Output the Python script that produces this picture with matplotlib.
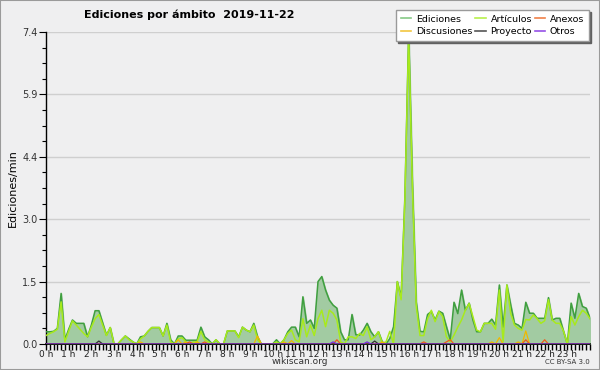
import matplotlib
matplotlib.use('Agg')
import matplotlib.pyplot as plt
import numpy as np
from matplotlib.lines import Line2D
from matplotlib.patches import Rectangle
from matplotlib.ticker import MultipleLocator, FixedLocator, FuncFormatter

# edits per minute, 10-minute bins (145 points, 0 h .. 24 h)
ediciones = [
    0.29, 0.29, 0.30, 0.37, 1.20, 0.10,   # 0 h
    0.35, 0.57, 0.49, 0.49, 0.49, 0.17,   # 1 h
    0.45, 0.79, 0.79, 0.50, 0.21, 0.39,   # 2 h
    0.00, 0.00, 0.10, 0.19, 0.12, 0.05,   # 3 h
    0.00, 0.17, 0.19, 0.30, 0.39, 0.39,   # 4 h
    0.39, 0.19, 0.49, 0.10, 0.00, 0.19,   # 5 h
    0.19, 0.09, 0.09, 0.09, 0.09, 0.40,   # 6 h
    0.17, 0.10, 0.00, 0.10, 0.00, 0.00,   # 7 h
    0.31, 0.31, 0.31, 0.17, 0.40, 0.33,   # 8 h
    0.29, 0.49, 0.17, 0.00, 0.00, 0.00,   # 9 h
    0.00, 0.10, 0.00, 0.10, 0.29, 0.40,   # 10 h
    0.40, 0.17, 1.12, 0.49, 0.57, 0.37,   # 11 h
    1.48, 1.60, 1.28, 1.04, 0.92, 0.85,   # 12 h
    0.29, 0.10, 0.10, 0.70, 0.22, 0.21,   # 13 h
    0.33, 0.49, 0.29, 0.17, 0.29, 0.05,   # 14 h
    0.00, 0.13, 0.41, 1.48, 1.10, 3.50,   # 15 h
    7.40, 3.80, 1.00, 0.30, 0.29, 0.70,   # 16 h
    0.77, 0.57, 0.78, 0.73, 0.41, 0.10,   # 17 h
    0.99, 0.72, 1.28, 0.80, 0.97, 0.57,   # 18 h
    0.29, 0.29, 0.49, 0.49, 0.59, 0.45,   # 19 h
    1.40, 0.40, 1.40, 0.93, 0.49, 0.45,   # 20 h
    0.37, 0.99, 0.73, 0.73, 0.61, 0.61,   # 21 h
    0.61, 1.10, 0.57, 0.61, 0.61, 0.30,   # 22 h
    0.00, 0.97, 0.61, 1.20, 0.89, 0.85,   # 23 h
    0.61,
]
articulos = [
    0.20, 0.25, 0.29, 0.35, 1.00, 0.05,
    0.30, 0.55, 0.45, 0.35, 0.25, 0.17,
    0.40, 0.60, 0.70, 0.45, 0.20, 0.39,
    0.00, 0.00, 0.10, 0.19, 0.10, 0.05,
    0.00, 0.12, 0.19, 0.30, 0.39, 0.39,
    0.39, 0.19, 0.45, 0.05, 0.00, 0.12,
    0.15, 0.05, 0.00, 0.05, 0.05, 0.30,
    0.10, 0.05, 0.00, 0.10, 0.00, 0.00,
    0.31, 0.31, 0.31, 0.15, 0.40, 0.33,
    0.29, 0.45, 0.10, 0.00, 0.00, 0.00,
    0.00, 0.05, 0.00, 0.10, 0.25, 0.33,
    0.10, 0.05, 0.60, 0.17, 0.45, 0.20,
    0.60, 0.80, 0.41, 0.80, 0.73, 0.57,
    0.05, 0.00, 0.17, 0.17, 0.13, 0.25,
    0.20, 0.41, 0.10, 0.17, 0.29, 0.02,
    0.05, 0.30, 0.00, 1.48, 1.05, 3.40,
    7.30, 3.70, 0.90, 0.20, 0.20, 0.60,
    0.80, 0.53, 0.77, 0.65, 0.17, 0.05,
    0.21, 0.40, 0.57, 0.80, 0.96, 0.65,
    0.33, 0.29, 0.49, 0.49, 0.49, 0.35,
    1.28, 0.05, 1.40, 0.73, 0.45, 0.37,
    0.33, 0.58, 0.57, 0.69, 0.60, 0.49,
    0.55, 1.05, 0.57, 0.49, 0.49, 0.30,
    0.00, 0.65, 0.45, 0.65, 0.80, 0.73,
    0.60,
]
# small series: bin index and value of the non-zero bins
discusiones_bins = [25, 35, 37, 40, 56, 63, 65, 89, 118, 120, 125, 127]
discusiones_vals = [0.05, 0.10, 0.05, 0.05, 0.19, 0.05, 0.08, 0.05, 0.05, 0.15, 0.05, 0.31]
anexos_bins = [38, 42, 77, 100, 106, 107, 127, 132]
anexos_vals = [0.05, 0.05, 0.10, 0.05, 0.05, 0.10, 0.10, 0.10]
proyecto_bins = [14, 87]
proyecto_vals = [0.07, 0.07]
otros_bins = [76, 85]
otros_vals = [0.05, 0.05]

hours = np.arange(len(ediciones)) / 6.0


def sparse(bins, vals):
    arr = np.zeros(len(ediciones))
    arr[bins] = vals
    return arr


discusiones = sparse(discusiones_bins, discusiones_vals)
anexos = sparse(anexos_bins, anexos_vals)
proyecto = sparse(proyecto_bins, proyecto_vals)
otros = sparse(otros_bins, otros_vals)

bg = '#efeff0'
fig = plt.figure(figsize=(6, 3.7), dpi=100, facecolor=bg)
ax = fig.add_axes([46 / 600, 1 - 344 / 370, 544 / 600, 312 / 370])
ax.set_facecolor(bg)
fig.patches.append(Rectangle((0, 0), 1, 1, transform=fig.transFigure,
                             fill=False, edgecolor='#9a9a9a', linewidth=1.5))

ax.fill_between(hours, ediciones, color='#a2cba2', zorder=2)
ax.plot(hours, ediciones, color='#3f9f3f', linewidth=1.1, zorder=3)
ax.plot(hours, articulos, color='#a8ea1c', linewidth=1.1, zorder=4)
ax.plot(hours, discusiones, color='#f0b800', linewidth=0.9, zorder=5)
ax.plot(hours, anexos, color='#f05a1a', linewidth=0.9, zorder=5)
ax.plot(hours, proyecto, color='#303030', linewidth=0.9, zorder=5)
ax.plot(hours, otros, color='#7a2ae0', linewidth=0.9, zorder=5)

ymax = 7.4
ax.set_xlim(0, 24)
ax.set_ylim(0, ymax)
yticks = np.linspace(0, ymax, 6)
ax.yaxis.set_major_locator(FixedLocator(yticks))
ax.yaxis.set_minor_locator(MultipleLocator(ymax / 20))
ax.yaxis.set_major_formatter(FuncFormatter(lambda v, p: f'{v:.1f}'))
ax.xaxis.set_major_locator(FixedLocator(range(24)))
ax.xaxis.set_minor_locator(MultipleLocator(1 / 6))
ax.xaxis.set_major_formatter(FuncFormatter(lambda v, p: f'{int(round(v))} h'))

ax.grid(axis='y', color='#cfcfcf', linewidth=1, zorder=1)
ax.set_axisbelow(True)
for s in ['top', 'right']:
    ax.spines[s].set_visible(False)
ax.spines['left'].set_linewidth(1)
ax.spines['bottom'].set_linewidth(1.2)
ax.tick_params(axis='y', which='major', length=5, width=0.8, labelsize=7,
               labelcolor='#333333', pad=1)
ax.tick_params(axis='y', which='minor', length=3, width=0.8)
ax.tick_params(axis='x', which='both', length=4, width=1, labelsize=6.5,
               labelcolor='#222222', pad=0)

ax.set_ylabel('Ediciones/min', fontsize=8, labelpad=3)
fig.text(84 / 600, 1 - 15 / 370, 'Ediciones por ámbito  2019-11-22',
         fontsize=8, fontweight='bold', va='center', ha='left')
fig.text(300 / 600, 1 - 362 / 370, 'wikiscan.org', fontsize=6.5,
         ha='center', va='center', color='#333333')
fig.text(590 / 600, 1 - 362 / 370, 'CC BY-SA 3.0', fontsize=5,
         ha='right', va='center', color='#333333')

handles = [
    Line2D([], [], color='#86c986', lw=1.2, label='Ediciones'),
    Line2D([], [], color='#f2c640', lw=1.2, label='Discusiones'),
    Line2D([], [], color='#b8f04c', lw=1.2, label='Artículos'),
    Line2D([], [], color='#555555', lw=1.2, label='Proyecto'),
    Line2D([], [], color='#f08048', lw=1.2, label='Anexos'),
    Line2D([], [], color='#9550e6', lw=1.2, label='Otros'),
]
leg = fig.legend(handles=handles, ncol=3, loc='upper right',
                 bbox_to_anchor=(589 / 600, 1 - 10 / 370), fontsize=6.8,
                 frameon=True, fancybox=False,
                 shadow={'ox': 1.5, 'oy': -1.5, 'color': '#606060', 'alpha': 1},
                 handlelength=1.1, handletextpad=0.5, columnspacing=0.3,
                 labelspacing=0.4, borderpad=0.5, borderaxespad=0)
leg.get_frame().set_edgecolor('#9a9a9a')
leg.get_frame().set_linewidth(1)
leg.get_frame().set_facecolor('white')
leg.get_frame().set_alpha(1)

fig.savefig('out.png', dpi=100, facecolor=bg)
